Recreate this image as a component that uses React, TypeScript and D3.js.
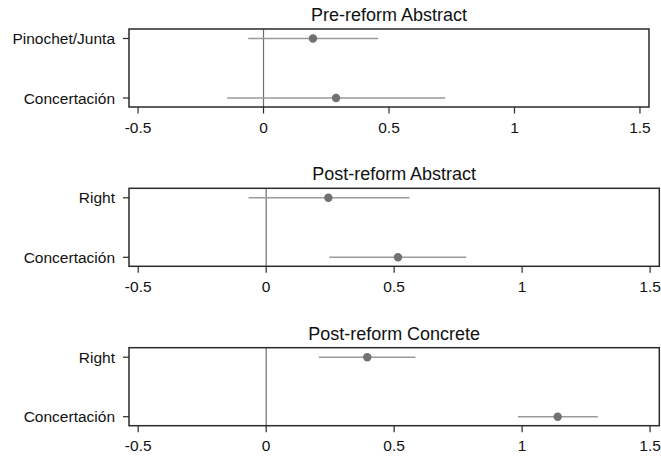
import React from "react";
import * as d3 from "d3";

const panelTitles = ["Pre-reform Abstract", "Post-reform Abstract", "Post-reform Concrete"];
const panelCategories = [
  ["Pinochet/Junta", "Concertación"],
  ["Right", "Concertación"],
  ["Right", "Concertación"],
];
const estimates = [
  [0.197, 0.289],
  [0.243, 0.515],
  [0.395, 1.139],
];
const lowerBounds = [
  [-0.061, -0.145],
  [-0.069, 0.247],
  [0.206, 0.984],
];
const upperBounds = [
  [0.457, 0.724],
  [0.56, 0.782],
  [0.583, 1.296],
];
const xTicks = [-0.5, 0, 0.5, 1, 1.5];
const xTickLabels = ["-0.5", "0", "0.5", "1", "1.5"];

const W = 661;
const H = 457;
const FONT = "'Liberation Sans', Arial, Helvetica, sans-serif";

const boxes = [
  { l: 129, r: 649, t: 29, b: 107 },
  { l: 129, r: 659.3, t: 188.3, b: 266.3 },
  { l: 129, r: 659.3, t: 347.7, b: 425.7 },
];

function Panel({ i }: { i: number }) {
  const box = boxes[i];
  const x = d3.scaleLinear().domain([-0.536, 1.536]).range([box.l, box.r]);
  const cats = panelCategories[i];
  const y = d3
    .scalePoint<string>()
    .domain(cats)
    .range([box.t + 9.5, box.b - 9]);
  return (
    <g>
      <text
        x={(box.l + box.r) / 2}
        y={box.t - 8}
        textAnchor="middle"
        fontSize={18}
        fontFamily={FONT}
        fill="#111"
        transform={`translate(0, ${box.t - 8}) scale(1, 1.05) translate(0, ${-(box.t - 8)})`}
      >
        {panelTitles[i]}
      </text>
      <line x1={x(0)} x2={x(0)} y1={box.t} y2={box.b} stroke="#6e6e6e" strokeWidth={1.2} />
      {cats.map((c, j) => (
        <g key={c + j}>
          <line
            x1={x(lowerBounds[i][j])}
            x2={x(upperBounds[i][j])}
            y1={y(c)}
            y2={y(c)}
            stroke="#9a9a9a"
            strokeWidth={1.5}
          />
          <circle cx={x(estimates[i][j])} cy={y(c)} r={4.2} fill="#717171" />
        </g>
      ))}
      <rect
        x={box.l}
        y={box.t}
        width={box.r - box.l}
        height={box.b - box.t}
        fill="none"
        stroke="#2a2a2a"
        strokeWidth={1.5}
      />
      {cats.map((c, j) => (
        <g key={"yt" + j}>
          <line x1={box.l - 6} x2={box.l} y1={y(c)} y2={y(c)} stroke="#2a2a2a" strokeWidth={1.2} />
          <text
            x={box.l - 14}
            y={(y(c) as number) + 5.5}
            textAnchor="end"
            fontSize={15.5}
            fontFamily={FONT}
            fill="#111"
          >
            {c}
          </text>
        </g>
      ))}
      {xTicks.map((t, k) => (
        <g key={"xt" + k}>
          <line x1={x(t)} x2={x(t)} y1={box.b} y2={box.b + 6.5} stroke="#2a2a2a" strokeWidth={1.2} />
          <text
            x={x(t)}
            y={box.b + 25.5}
            textAnchor="middle"
            fontSize={15.5}
            fontFamily={FONT}
            fill="#111"
          >
            {xTickLabels[k]}
          </text>
        </g>
      ))}
    </g>
  );
}

export default function App() {
  return (
    <svg
      width={W}
      height={H}
      style={{ position: "absolute", left: 0, top: 0, background: "#fff" }}
    >
      {panelTitles.map((_, i) => (
        <Panel key={i} i={i} />
      ))}
    </svg>
  );
}
